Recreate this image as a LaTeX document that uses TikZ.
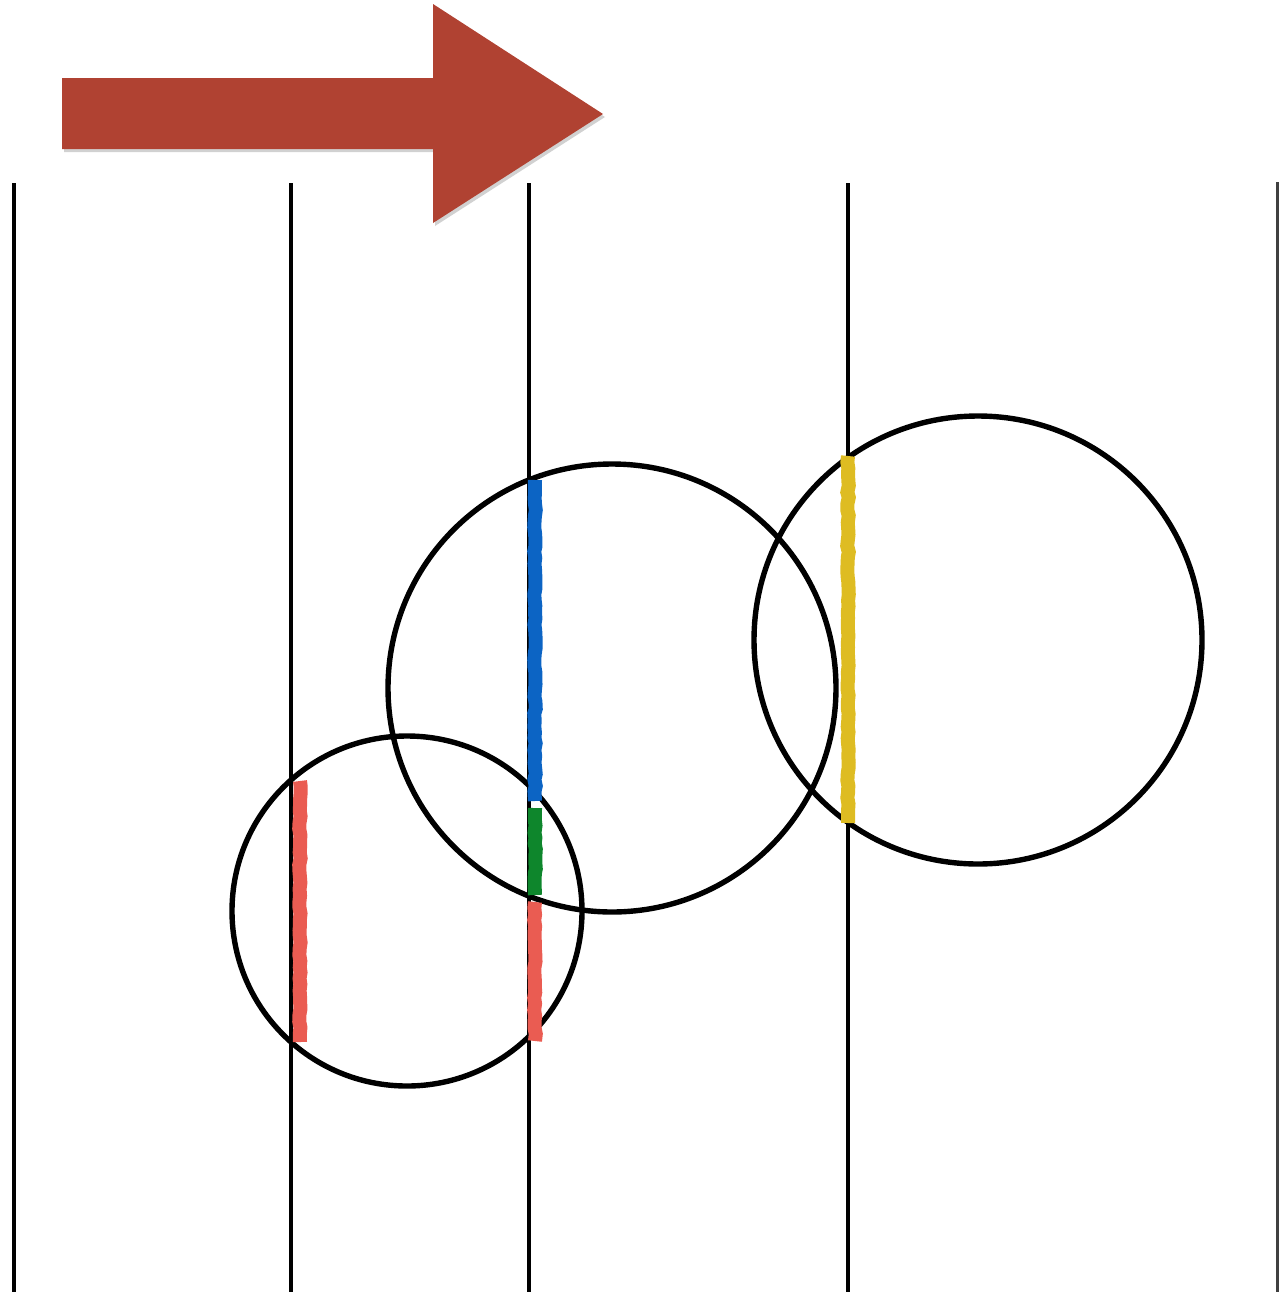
\documentclass[tikz,border=0pt]{standalone}
\usetikzlibrary{decorations.pathmorphing}
\definecolor{arrowred}{RGB}{176,66,50}
\definecolor{chalkred}{RGB}{234,92,82}
\definecolor{chalkblue}{RGB}{12,100,196}
\definecolor{chalkgreen}{RGB}{14,134,44}
\definecolor{chalkyellow}{RGB}{222,188,34}
\tikzset{
  vline/.style={line width=2.2pt, black},
  ring/.style={line width=2.7pt, black},
  chalk/.style={line width=7pt, line cap=butt,
    decorate, decoration={random steps, segment length=3pt, amplitude=0.4pt}},
}
\begin{document}
\begin{tikzpicture}[x=0.5pt, y=-0.5pt]
\useasboundingbox (0,0) rectangle (1279,1296);
% arrow with soft shadow
\fill[black, opacity=0.18] (64,81) -- (435,81) -- (435,7) -- (605,117) -- (435,226) -- (435,152) -- (64,152) -- cycle;
\fill[arrowred] (62,78) -- (433,78) -- (433,4) -- (603,114) -- (433,223) -- (433,149) -- (62,149) -- cycle;
% vertical lines
\foreach \x in {14,291,529,848} \draw[vline] (\x,183) -- (\x,1292);
\draw[line width=1.3pt, black!75] (1277.5,182) -- (1277.5,1292);
% circles
\draw[ring] (407,911) circle (175);
\draw[ring] (612,688) circle (224);
\draw[ring] (978,640) circle (224);
% coloured chalk strokes
\draw[chalk, chalkred] (300,781) -- (300,1042);
\draw[chalk, chalkblue] (535,480) -- (535,801);
\draw[chalk, chalkgreen] (535,808) -- (535,895);
\draw[chalk, chalkred] (535,902) -- (535,1041);
\draw[chalk, chalkyellow] (848,456) -- (848,823);
\end{tikzpicture}
\end{document}
